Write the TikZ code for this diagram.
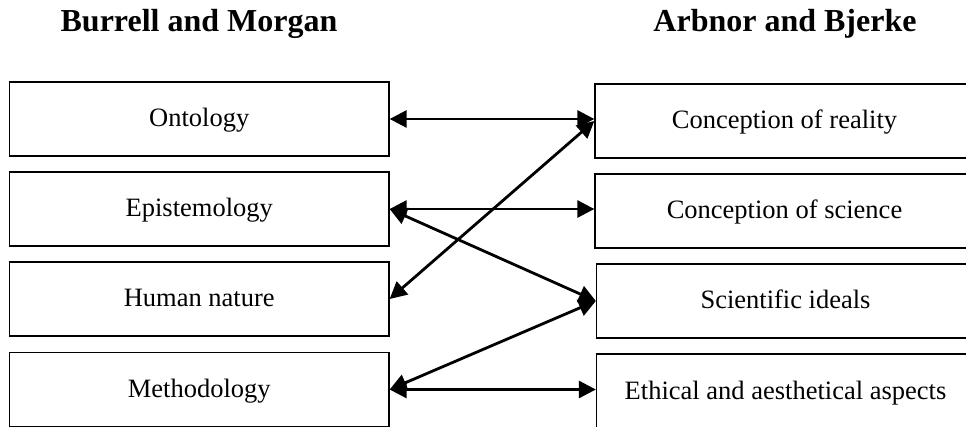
\documentclass[tikz,border=0pt]{standalone}
\usepackage{fontspec}
\setmainfont{Liberation Serif}
\usetikzlibrary{arrows.meta}
\begin{document}
\begin{tikzpicture}[x=1pt,y=-1pt,
  concept/.style={draw=black,line width=1.3pt,rectangle,inner sep=0pt,
    minimum height=74pt,text height=18pt,text depth=2pt,
    font=\fontsize{26.5}{30}\selectfont},
  leftbox/.style={concept,minimum width=379.5pt},
  rightbox/.style={concept,minimum width=378pt},
  heading/.style={anchor=base,font=\fontsize{32}{36}\selectfont\bfseries},
  link/.style={line width=2.8pt,{Triangle[length=17pt,width=17pt]}-{Triangle[length=17pt,width=17pt]}}]
\useasboundingbox (0,0) rectangle (966,427);
\clip (0,0) rectangle (966,427);

% column headings
\node[heading] (hbm) at (199,32) {Burrell and Morgan};
\node[heading] (hab) at (785,32) {Arbnor and Bjerke};

% Burrell and Morgan dimensions
\node[leftbox] (onto) at (199.25,119) {Ontology};
\node[leftbox] (epi)  at (199.25,209) {Epistemology};
\node[leftbox] (hum)  at (199.25,299) {Human nature};
\node[leftbox] (meth) at (199.25,389.5) {Methodology};

% Arbnor and Bjerke dimensions
\node[rightbox,minimum width=379pt] (real) at (784.5,121) {Conception of reality};
\node[rightbox,minimum width=379pt] (sci)  at (784.5,211) {Conception of science};
\node[rightbox] (ideal) at (785.5,301) {Scientific ideals};
\node[rightbox] (eth)   at (785.5,391) {Ethical and aesthetical aspects};

% correspondences
\draw[link] (onto.east) -- (onto.east -| real.west);
\draw[link] (hum.east) -- (real.west);
\draw[link] (epi.east) -- (epi.east -| sci.west);
\draw[link] (epi.east) -- (ideal.west);
\draw[link] (meth.east) -- (ideal.west);
\draw[link] (meth.east) -- (meth.east -| eth.west);
\end{tikzpicture}
\end{document}
